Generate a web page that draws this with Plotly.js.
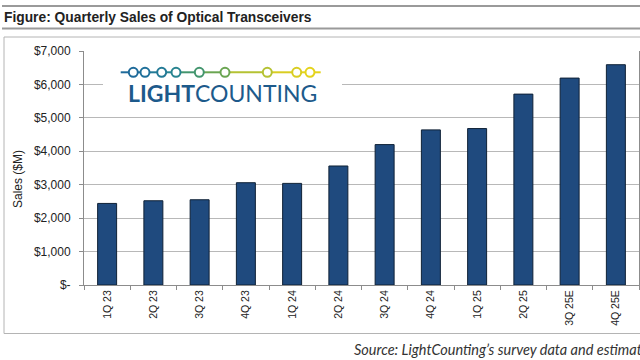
<!DOCTYPE html>
<html>
<head>
<meta charset="utf-8">
<script src="https://cdn.plot.ly/plotly-3.0.1.min.js"></script>
<style>html,body{margin:0;padding:0;background:#fff;overflow:hidden}#chart{width:640px;height:360px}</style>
</head>
<body>
<div id="chart"></div>
<script>
// ---- data ----
const quarters = ["1Q 23","2Q 23","3Q 23","4Q 23","1Q 24","2Q 24","3Q 24","4Q 24","1Q 25","2Q 25","3Q 25E","4Q 25E"];
const salesM = [2440, 2520, 2550, 3060, 3040, 3560, 4200, 4640, 4680, 5710, 6190, 6590];
const yTickVals = [0, 1000, 2000, 3000, 4000, 5000, 6000, 7000];
const yTickText = ["$-", "$1,000", "$2,000", "$3,000", "$4,000", "$5,000", "$6,000", "$7,000"];

// ---- layout geometry (pixels) ----
const L = 84, R = 639, T = 51, B = 285;
const W = 640, H = 360;
const px = x => (x - L) / (R - L);
const py = y => (B - y) / (B - T);

const shapes = [];
const annotations = [];

// horizontal rules around the figure title
shapes.push({type:'line', xref:'paper', yref:'paper', x0:px(2), x1:px(640), y0:py(6), y1:py(6), line:{color:'#9a9a9a', width:2}, layer:'above'});
shapes.push({type:'line', xref:'paper', yref:'paper', x0:px(2), x1:px(640), y0:py(28.5), y1:py(28.5), line:{color:'#9a9a9a', width:2}, layer:'above'});
// chart frame
shapes.push({type:'rect', xref:'paper', yref:'paper', x0:px(4), x1:px(660), y0:py(37), y1:py(333.5), line:{color:'#b4b4b4', width:1}, fillcolor:'rgba(0,0,0,0)', layer:'below'});

// logo white backdrop
shapes.push({type:'rect', xref:'paper', yref:'paper', x0:px(103), x1:px(342), y0:py(55), y1:py(110), line:{width:0}, fillcolor:'#ffffff', layer:'above'});

// logo line with circles (gradient)
const logoDots = [133.3, 145, 161.7, 176, 199.3, 225, 267.3, 296.7, 310];
const logoCols = ['#1e6a9a','#1f709a','#237a96','#288490','#43956e','#6aa552','#b5c233','#d9cd22','#e4d31c'];
const ly = 72.3;
const segX = [120.7].concat(logoDots).concat([320.7]);
const segC = [logoCols[0]].concat(logoCols).concat([logoCols[logoCols.length-1]]);
for (let i = 0; i < segX.length - 1; i++) {
  shapes.push({type:'line', xref:'paper', yref:'paper', x0:px(segX[i]), x1:px(segX[i+1]), y0:py(ly), y1:py(ly), line:{color:segC[i+1], width:2}, layer:'above'});
}
logoDots.forEach((x, i) => {
  shapes.push({type:'circle', xref:'paper', yref:'paper', xsizemode:'pixel', ysizemode:'pixel',
    xanchor:px(x), yanchor:py(ly), x0:-4.5, x1:4.5, y0:-4.5, y1:4.5,
    line:{color:logoCols[i], width:2}, fillcolor:'#ffffff', layer:'above'});
});
annotations.push({xref:'paper', yref:'paper', x:px(222), y:py(93), xanchor:'center', yanchor:'middle', showarrow:false,
  text:'<b>LIGHT</b>COUNTING', font:{family:'Lato, "Open Sans", sans-serif', size:23, color:'#1d5a8b'}});

// y-axis title
annotations.push({xref:'paper', yref:'paper', x:px(18), y:py(179), xanchor:'center', yanchor:'middle', showarrow:false,
  textangle:-90, text:'Sales ($M)', font:{family:'"Liberation Sans", Arial, sans-serif', size:12, color:'#222'}});

// source line
annotations.push({xref:'paper', yref:'paper', x:px(352), y:py(349), xanchor:'left', yanchor:'middle', showarrow:false,
  text:'<i>Source: LightCounting\u2019s survey data and estimates</i>', font:{family:'Lato, "Open Sans", sans-serif', size:14.5, color:'#333'}});

const trace = {
  type:'bar', x: quarters, y: salesM, width: 0.41,
  marker:{color:'#1f4a7e', line:{color:'#0f2136', width:1}},
  hoverinfo:'skip'
};

const layout = {
  width: W, height: H,
  margin:{l:L, r:W-R, t:T, b:H-B, pad:0},
  paper_bgcolor:'#ffffff', plot_bgcolor:'#ffffff',
  showlegend:false,
  title:{text:'<b>Figure: Quarterly Sales of Optical Transceivers</b>', xref:'container', yref:'container',
    x:4/W, xanchor:'left', y:1-17/H, yanchor:'middle',
    font:{family:'"Liberation Sans", Arial, sans-serif', size:13.8, color:'#222'}},
  xaxis:{type:'category', categoryorder:'array', categoryarray:quarters, range:[-0.5, 11.5],
    showline:true, linecolor:'#8c8c8c', linewidth:1, showgrid:false, zeroline:false,
    ticks:'outside', tickson:'boundaries', ticklen:4, tickcolor:'#8c8c8c', tickangle:-90,
    tickfont:{family:'"Liberation Sans", Arial, sans-serif', size:10.5, color:'#222'}, fixedrange:true},
  yaxis:{range:[0,7000], tickvals:yTickVals, ticktext:yTickText,
    showline:true, mirror:true, linecolor:'#8c8c8c', linewidth:1, showgrid:true, gridcolor:'#b8b8b8', gridwidth:1,
    zeroline:false, ticks:'outside', ticklen:4, tickcolor:'#8c8c8c', ticklabelstandoff:6,
    tickfont:{family:'"Liberation Sans", Arial, sans-serif', size:12, color:'#222'}, fixedrange:true},
  shapes: shapes,
  annotations: annotations
};

Plotly.newPlot('chart', [trace], layout, {staticPlot:true, displayModeBar:false});
</script>
</body>
</html>
